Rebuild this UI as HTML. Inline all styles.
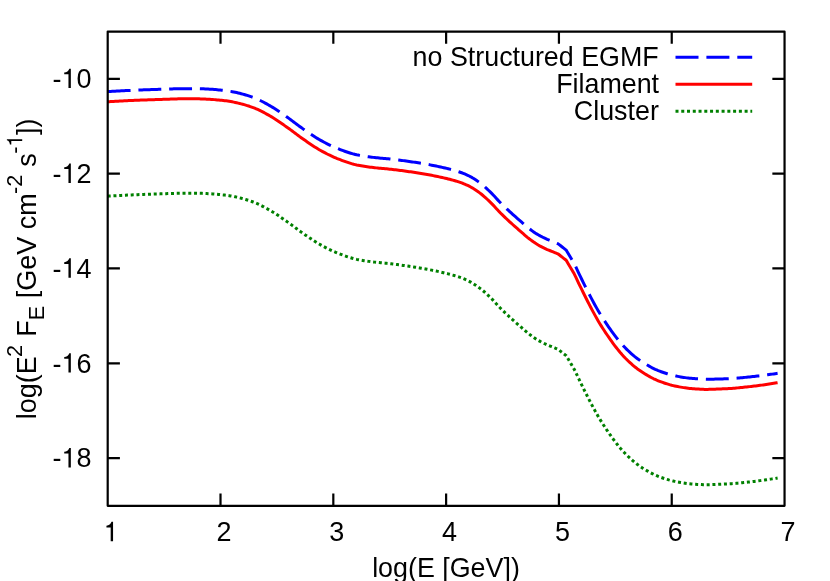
<!DOCTYPE html>
<html>
<head>
<meta charset="utf-8">
<title>plot</title>
<style>
html,body{margin:0;padding:0;background:#fff;}
body{width:830px;height:581px;overflow:hidden;}
svg{display:block;}
text{font-family:"Liberation Sans",sans-serif;fill:#000;font-kerning:none;white-space:pre;}
.lbl{opacity:0.999;}
.rot{filter:grayscale(1);}
</style>
</head>
<body>
<svg width="830" height="581" viewBox="0 0 830 581">
<rect x="0" y="0" width="830" height="581" fill="#ffffff"/>
<g fill="none" stroke-width="3" stroke-linejoin="round" stroke-linecap="butt">
<path stroke="#0000ff" stroke-dasharray="22.9 7.85" d="M107.7,91.59 L109.2,91.50 L110.7,91.41 L112.2,91.33 L113.7,91.24 L115.2,91.16 L116.7,91.07 L118.2,90.99 L119.7,90.91 L121.2,90.84 L122.7,90.76 L124.2,90.68 L125.7,90.61 L127.2,90.54 L128.7,90.47 L130.2,90.40 L131.7,90.33 L133.2,90.27 L134.7,90.21 L136.2,90.14 L137.7,90.08 L139.2,90.03 L140.7,89.97 L142.2,89.91 L143.7,89.86 L145.2,89.80 L146.7,89.75 L148.2,89.70 L149.7,89.65 L151.2,89.60 L152.7,89.55 L154.2,89.50 L155.7,89.45 L157.2,89.40 L158.7,89.36 L160.2,89.31 L161.7,89.26 L163.2,89.20 L164.7,89.15 L166.2,89.09 L167.7,89.04 L169.2,88.98 L170.7,88.93 L172.2,88.88 L173.7,88.83 L175.2,88.79 L176.7,88.75 L178.2,88.71 L179.7,88.68 L181.2,88.66 L182.7,88.65 L184.2,88.64 L185.7,88.64 L187.2,88.64 L188.7,88.64 L190.2,88.64 L191.7,88.64 L193.2,88.64 L194.7,88.64 L196.2,88.65 L197.7,88.68 L199.2,88.71 L200.7,88.75 L202.2,88.81 L203.7,88.87 L205.2,88.93 L206.7,89.00 L208.2,89.07 L209.7,89.15 L211.2,89.23 L212.7,89.35 L214.2,89.47 L215.7,89.61 L217.2,89.76 L218.7,89.91 L220.2,90.06 L221.7,90.21 L223.2,90.36 L224.7,90.52 L226.2,90.70 L227.7,90.91 L229.2,91.14 L230.7,91.39 L232.2,91.67 L233.7,91.96 L235.2,92.27 L236.7,92.59 L238.2,92.94 L239.7,93.30 L241.2,93.68 L242.7,94.08 L244.2,94.50 L245.7,94.94 L247.2,95.40 L248.7,95.88 L250.2,96.39 L251.7,96.91 L253.2,97.45 L254.7,98.02 L256.2,98.64 L257.7,99.30 L259.2,99.99 L260.7,100.73 L262.2,101.49 L263.7,102.28 L265.2,103.09 L266.7,103.92 L268.2,104.77 L269.7,105.62 L271.2,106.48 L272.7,107.38 L274.2,108.31 L275.7,109.28 L277.2,110.27 L278.7,111.28 L280.2,112.31 L281.7,113.36 L283.2,114.41 L284.7,115.47 L286.2,116.52 L287.7,117.57 L289.2,118.64 L290.7,119.73 L292.2,120.84 L293.7,121.96 L295.2,123.09 L296.7,124.21 L298.2,125.34 L299.7,126.45 L301.2,127.54 L302.7,128.62 L304.2,129.66 L305.7,130.69 L307.2,131.72 L308.7,132.75 L310.2,133.77 L311.7,134.77 L313.2,135.77 L314.7,136.74 L316.2,137.69 L317.7,138.61 L319.2,139.50 L320.7,140.35 L322.2,141.18 L323.7,141.99 L325.2,142.78 L326.7,143.55 L328.2,144.31 L329.7,145.05 L331.2,145.76 L332.7,146.45 L334.2,147.12 L335.7,147.76 L337.2,148.38 L338.7,148.96 L340.2,149.54 L341.7,150.11 L343.2,150.68 L344.7,151.22 L346.2,151.76 L347.7,152.27 L349.2,152.76 L350.7,153.23 L352.2,153.67 L353.7,154.08 L355.2,154.45 L356.7,154.79 L358.2,155.09 L359.7,155.38 L361.2,155.65 L362.7,155.90 L364.2,156.15 L365.7,156.37 L367.2,156.59 L368.7,156.80 L370.2,156.99 L371.7,157.18 L373.2,157.37 L374.7,157.54 L376.2,157.71 L377.7,157.86 L379.2,158.00 L380.7,158.14 L382.2,158.28 L383.7,158.41 L385.2,158.54 L386.7,158.68 L388.2,158.83 L389.7,158.98 L391.2,159.14 L392.7,159.31 L394.2,159.49 L395.7,159.67 L397.2,159.85 L398.7,160.04 L400.2,160.24 L401.7,160.43 L403.2,160.63 L404.7,160.84 L406.2,161.04 L407.7,161.25 L409.2,161.46 L410.7,161.68 L412.2,161.90 L413.7,162.12 L415.2,162.35 L416.7,162.58 L418.2,162.81 L419.7,163.05 L421.2,163.30 L422.7,163.55 L424.2,163.81 L425.7,164.07 L427.2,164.33 L428.7,164.60 L430.2,164.88 L431.7,165.16 L433.2,165.45 L434.7,165.75 L436.2,166.05 L437.7,166.36 L439.2,166.68 L440.7,167.01 L442.2,167.35 L443.7,167.69 L445.2,168.03 L446.7,168.39 L448.2,168.75 L449.7,169.13 L451.2,169.51 L452.7,169.92 L454.2,170.34 L455.7,170.78 L457.2,171.24 L458.7,171.72 L460.2,172.23 L461.7,172.77 L463.2,173.34 L464.7,173.96 L466.2,174.60 L467.7,175.29 L469.2,176.02 L470.7,176.81 L472.2,177.66 L473.7,178.58 L475.2,179.55 L476.7,180.57 L478.2,181.63 L479.7,182.72 L481.2,183.86 L482.7,185.07 L484.2,186.35 L485.7,187.69 L487.2,189.07 L488.7,190.49 L490.2,191.93 L491.7,193.41 L493.2,194.98 L494.7,196.60 L496.2,198.24 L497.7,199.88 L499.2,201.48 L500.7,203.02 L502.2,204.50 L503.7,205.96 L505.2,207.40 L506.7,208.81 L508.2,210.21 L509.7,211.59 L511.2,212.96 L512.7,214.32 L514.2,215.65 L515.7,216.97 L517.2,218.28 L518.7,219.58 L520.2,220.88 L521.7,222.19 L523.2,223.51 L524.7,224.83 L526.2,226.13 L527.7,227.39 L529.2,228.60 L530.7,229.74 L532.2,230.84 L533.7,231.90 L535.2,232.92 L536.7,233.89 L538.2,234.80 L539.7,235.65 L541.2,236.46 L542.7,237.22 L544.2,237.96 L545.7,238.66 L547.2,239.34 L548.7,239.95 L550.2,240.56 L551.7,241.17 L553.2,241.78 L554.7,242.39 L556.2,243.00 L557.7,243.61 L558.2,243.81 L559.2,244.60 L560.7,245.78 L562.2,246.96 L563.7,248.14 L565.2,249.32 L566.2,250.11 L566.7,250.95 L568.2,253.46 L569.7,255.98 L571.2,258.49 L572.7,261.01 L574.2,263.67 L575.7,266.62 L577.2,269.86 L578.7,273.10 L580.2,276.21 L581.7,279.27 L583.2,282.31 L584.7,285.32 L586.2,288.30 L587.7,291.26 L589.2,294.20 L590.7,297.09 L592.2,299.92 L593.7,302.71 L595.2,305.45 L596.7,308.14 L598.2,310.76 L599.7,313.27 L601.2,315.70 L602.7,318.05 L604.2,320.35 L605.7,322.61 L607.2,324.84 L608.7,327.03 L610.2,329.18 L611.7,331.29 L613.2,333.34 L614.7,335.33 L616.2,337.30 L617.7,339.23 L619.2,341.10 L620.7,342.89 L622.2,344.61 L623.7,346.24 L625.2,347.81 L626.7,349.33 L628.2,350.79 L629.7,352.19 L631.2,353.54 L632.7,354.84 L634.2,356.11 L635.7,357.32 L637.2,358.48 L638.7,359.59 L640.2,360.64 L641.7,361.65 L643.2,362.62 L644.7,363.55 L646.2,364.45 L647.7,365.32 L649.2,366.17 L650.7,367.00 L652.2,367.81 L653.7,368.57 L655.2,369.29 L656.7,369.95 L658.2,370.58 L659.7,371.17 L661.2,371.73 L662.7,372.26 L664.2,372.77 L665.7,373.26 L667.2,373.74 L668.7,374.20 L670.2,374.63 L671.7,375.03 L673.2,375.40 L674.7,375.74 L676.2,376.06 L677.7,376.37 L679.2,376.65 L680.7,376.92 L682.2,377.17 L683.7,377.41 L685.2,377.64 L686.7,377.86 L688.2,378.05 L689.7,378.21 L691.2,378.35 L692.7,378.48 L694.2,378.60 L695.7,378.71 L697.2,378.80 L698.7,378.88 L700.2,378.97 L701.7,379.07 L703.2,379.16 L704.7,379.22 L706.2,379.26 L707.7,379.27 L709.2,379.26 L710.7,379.24 L712.2,379.21 L713.7,379.16 L715.2,379.11 L716.7,379.06 L718.2,379.01 L719.7,378.96 L721.2,378.92 L722.7,378.88 L724.2,378.83 L725.7,378.78 L727.2,378.73 L728.7,378.67 L730.2,378.60 L731.7,378.52 L733.2,378.42 L734.7,378.31 L736.2,378.19 L737.7,378.06 L739.2,377.93 L740.7,377.79 L742.2,377.65 L743.7,377.51 L745.2,377.37 L746.7,377.23 L748.2,377.08 L749.7,376.93 L751.2,376.77 L752.7,376.61 L754.2,376.45 L755.7,376.28 L757.2,376.11 L758.7,375.93 L760.2,375.75 L761.7,375.57 L763.2,375.38 L764.7,375.18 L766.2,374.98 L767.7,374.78 L769.2,374.57 L770.7,374.35 L772.2,374.13 L773.7,373.91 L775.2,373.68 L776.7,373.44 L777.6,373.30"/>
<path stroke="#ff0000" d="M107.7,101.74 L109.2,101.65 L110.7,101.56 L112.2,101.48 L113.7,101.39 L115.2,101.31 L116.7,101.23 L118.2,101.14 L119.7,101.07 L121.2,100.99 L122.7,100.91 L124.2,100.84 L125.7,100.76 L127.2,100.69 L128.7,100.62 L130.2,100.55 L131.7,100.49 L133.2,100.42 L134.7,100.36 L136.2,100.30 L137.7,100.24 L139.2,100.18 L140.7,100.12 L142.2,100.06 L143.7,100.01 L145.2,99.96 L146.7,99.90 L148.2,99.85 L149.7,99.80 L151.2,99.75 L152.7,99.70 L154.2,99.65 L155.7,99.60 L157.2,99.56 L158.7,99.51 L160.2,99.46 L161.7,99.41 L163.2,99.36 L164.7,99.30 L166.2,99.25 L167.7,99.19 L169.2,99.14 L170.7,99.08 L172.2,99.03 L173.7,98.99 L175.2,98.94 L176.7,98.90 L178.2,98.87 L179.7,98.84 L181.2,98.82 L182.7,98.81 L184.2,98.80 L185.7,98.80 L187.2,98.80 L188.7,98.80 L190.2,98.80 L191.7,98.80 L193.2,98.80 L194.7,98.80 L196.2,98.81 L197.7,98.83 L199.2,98.87 L200.7,98.91 L202.2,98.96 L203.7,99.02 L205.2,99.09 L206.7,99.16 L208.2,99.23 L209.7,99.30 L211.2,99.39 L212.7,99.50 L214.2,99.63 L215.7,99.77 L217.2,99.92 L218.7,100.07 L220.2,100.22 L221.7,100.36 L223.2,100.52 L224.7,100.68 L226.2,100.86 L227.7,101.07 L229.2,101.30 L230.7,101.55 L232.2,101.83 L233.7,102.12 L235.2,102.43 L236.7,102.76 L238.2,103.10 L239.7,103.46 L241.2,103.84 L242.7,104.24 L244.2,104.66 L245.7,105.10 L247.2,105.56 L248.7,106.05 L250.2,106.55 L251.7,107.07 L253.2,107.61 L254.7,108.18 L256.2,108.80 L257.7,109.46 L259.2,110.16 L260.7,110.89 L262.2,111.65 L263.7,112.44 L265.2,113.25 L266.7,114.08 L268.2,114.93 L269.7,115.78 L271.2,116.65 L272.7,117.54 L274.2,118.48 L275.7,119.44 L277.2,120.43 L278.7,121.45 L280.2,122.48 L281.7,123.52 L283.2,124.58 L284.7,125.63 L286.2,126.69 L287.7,127.74 L289.2,128.81 L290.7,129.90 L292.2,131.00 L293.7,132.12 L295.2,133.25 L296.7,134.38 L298.2,135.50 L299.7,136.61 L301.2,137.71 L302.7,138.78 L304.2,139.83 L305.7,140.86 L307.2,141.89 L308.7,142.92 L310.2,143.93 L311.7,144.94 L313.2,145.93 L314.7,146.90 L316.2,147.85 L317.7,148.78 L319.2,149.67 L320.7,150.52 L322.2,151.35 L323.7,152.16 L325.2,152.95 L326.7,153.72 L328.2,154.48 L329.7,155.22 L331.2,155.93 L332.7,156.62 L334.2,157.29 L335.7,157.93 L337.2,158.55 L338.7,159.13 L340.2,159.71 L341.7,160.28 L343.2,160.84 L344.7,161.39 L346.2,161.93 L347.7,162.44 L349.2,162.93 L350.7,163.40 L352.2,163.84 L353.7,164.25 L355.2,164.62 L356.7,164.96 L358.2,165.26 L359.7,165.55 L361.2,165.82 L362.7,166.08 L364.2,166.32 L365.7,166.55 L367.2,166.76 L368.7,166.97 L370.2,167.17 L371.7,167.36 L373.2,167.54 L374.7,167.72 L376.2,167.88 L377.7,168.03 L379.2,168.18 L380.7,168.31 L382.2,168.45 L383.7,168.58 L385.2,168.72 L386.7,168.85 L388.2,169.00 L389.7,169.15 L391.2,169.32 L392.7,169.49 L394.2,169.66 L395.7,169.84 L397.2,170.03 L398.7,170.22 L400.2,170.41 L401.7,170.61 L403.2,170.81 L404.7,171.01 L406.2,171.22 L407.7,171.43 L409.2,171.64 L410.7,171.85 L412.2,172.07 L413.7,172.30 L415.2,172.52 L416.7,172.75 L418.2,172.99 L419.7,173.23 L421.2,173.48 L422.7,173.73 L424.2,173.98 L425.7,174.24 L427.2,174.51 L428.7,174.78 L430.2,175.06 L431.7,175.34 L433.2,175.63 L434.7,175.93 L436.2,176.23 L437.7,176.54 L439.2,176.86 L440.7,177.19 L442.2,177.52 L443.7,177.86 L445.2,178.21 L446.7,178.56 L448.2,178.93 L449.7,179.30 L451.2,179.69 L452.7,180.10 L454.2,180.52 L455.7,180.96 L457.2,181.41 L458.7,181.90 L460.2,182.41 L461.7,182.95 L463.2,183.52 L464.7,184.14 L466.2,184.79 L467.7,185.47 L469.2,186.20 L470.7,186.99 L472.2,187.84 L473.7,188.76 L475.2,189.73 L476.7,190.75 L478.2,191.81 L479.7,192.90 L481.2,194.04 L482.7,195.25 L484.2,196.54 L485.7,197.87 L487.2,199.25 L488.7,200.67 L490.2,202.11 L491.7,203.59 L493.2,205.16 L494.7,206.78 L496.2,208.43 L497.7,210.06 L499.2,211.67 L500.7,213.20 L502.2,214.68 L503.7,216.14 L505.2,217.58 L506.7,218.99 L508.2,220.39 L509.7,221.78 L511.2,223.15 L512.7,224.50 L514.2,225.84 L515.7,227.16 L517.2,228.47 L518.7,229.77 L520.2,231.07 L521.7,232.37 L523.2,233.69 L524.7,235.01 L526.2,236.31 L527.7,237.58 L529.2,238.79 L530.7,239.92 L532.2,241.02 L533.7,242.09 L535.2,243.11 L536.7,244.07 L538.2,244.98 L539.7,245.84 L541.2,246.64 L542.7,247.41 L544.2,248.14 L545.7,248.85 L547.2,249.52 L548.7,250.13 L550.2,250.74 L551.7,251.35 L553.2,251.96 L554.7,252.58 L556.2,253.19 L557.7,253.80 L558.2,254.00 L559.2,254.79 L560.7,255.97 L562.2,257.15 L563.7,258.33 L565.2,259.51 L566.2,260.30 L566.7,261.14 L568.2,263.65 L569.7,266.17 L571.2,268.68 L572.7,271.20 L574.2,273.86 L575.7,276.81 L577.2,280.05 L578.7,283.29 L580.2,286.39 L581.7,289.46 L583.2,292.50 L584.7,295.51 L586.2,298.49 L587.7,301.45 L589.2,304.39 L590.7,307.28 L592.2,310.11 L593.7,312.90 L595.2,315.65 L596.7,318.34 L598.2,320.95 L599.7,323.46 L601.2,325.89 L602.7,328.24 L604.2,330.54 L605.7,332.80 L607.2,335.03 L608.7,337.22 L610.2,339.38 L611.7,341.48 L613.2,343.53 L614.7,345.53 L616.2,347.49 L617.7,349.42 L619.2,351.29 L620.7,353.09 L622.2,354.80 L623.7,356.43 L625.2,358.01 L626.7,359.52 L628.2,360.98 L629.7,362.38 L631.2,363.73 L632.7,365.04 L634.2,366.30 L635.7,367.51 L637.2,368.68 L638.7,369.79 L640.2,370.84 L641.7,371.85 L643.2,372.82 L644.7,373.75 L646.2,374.64 L647.7,375.51 L649.2,376.37 L650.7,377.20 L652.2,378.00 L653.7,378.77 L655.2,379.48 L656.7,380.15 L658.2,380.77 L659.7,381.36 L661.2,381.92 L662.7,382.46 L664.2,382.97 L665.7,383.46 L667.2,383.94 L668.7,384.39 L670.2,384.82 L671.7,385.23 L673.2,385.60 L674.7,385.94 L676.2,386.26 L677.7,386.56 L679.2,386.85 L680.7,387.12 L682.2,387.37 L683.7,387.61 L685.2,387.84 L686.7,388.06 L688.2,388.25 L689.7,388.41 L691.2,388.55 L692.7,388.68 L694.2,388.80 L695.7,388.91 L697.2,389.00 L698.7,389.08 L700.2,389.17 L701.7,389.25 L703.2,389.32 L704.7,389.38 L706.2,389.40 L707.7,389.39 L709.2,389.37 L710.7,389.33 L712.2,389.28 L713.7,389.22 L715.2,389.16 L716.7,389.09 L718.2,389.02 L719.7,388.96 L721.2,388.90 L722.7,388.85 L724.2,388.78 L725.7,388.72 L727.2,388.65 L728.7,388.57 L730.2,388.49 L731.7,388.39 L733.2,388.28 L734.7,388.15 L736.2,388.02 L737.7,387.87 L739.2,387.73 L740.7,387.57 L742.2,387.42 L743.7,387.26 L745.2,387.11 L746.7,386.95 L748.2,386.79 L749.7,386.62 L751.2,386.45 L752.7,386.27 L754.2,386.09 L755.7,385.91 L757.2,385.72 L758.7,385.53 L760.2,385.33 L761.7,385.13 L763.2,384.93 L764.7,384.72 L766.2,384.50 L767.7,384.28 L769.2,384.05 L770.7,383.82 L772.2,383.59 L773.7,383.35 L775.2,383.10 L776.7,382.85 L777.6,382.70"/>
<path stroke="#008000" stroke-dasharray="3 2.76" d="M107.7,196.14 L109.2,196.05 L110.7,195.96 L112.2,195.88 L113.7,195.79 L115.2,195.71 L116.7,195.63 L118.2,195.54 L119.7,195.47 L121.2,195.39 L122.7,195.31 L124.2,195.24 L125.7,195.16 L127.2,195.09 L128.7,195.02 L130.2,194.95 L131.7,194.89 L133.2,194.82 L134.7,194.76 L136.2,194.70 L137.7,194.64 L139.2,194.58 L140.7,194.52 L142.2,194.46 L143.7,194.41 L145.2,194.36 L146.7,194.30 L148.2,194.25 L149.7,194.20 L151.2,194.15 L152.7,194.10 L154.2,194.05 L155.7,194.00 L157.2,193.96 L158.7,193.91 L160.2,193.86 L161.7,193.81 L163.2,193.76 L164.7,193.70 L166.2,193.65 L167.7,193.59 L169.2,193.54 L170.7,193.48 L172.2,193.43 L173.7,193.39 L175.2,193.34 L176.7,193.30 L178.2,193.27 L179.7,193.24 L181.2,193.22 L182.7,193.21 L184.2,193.20 L185.7,193.20 L187.2,193.20 L188.7,193.20 L190.2,193.20 L191.7,193.20 L193.2,193.20 L194.7,193.20 L196.2,193.21 L197.7,193.23 L199.2,193.27 L200.7,193.31 L202.2,193.36 L203.7,193.42 L205.2,193.49 L206.7,193.56 L208.2,193.63 L209.7,193.70 L211.2,193.79 L212.7,193.90 L214.2,194.03 L215.7,194.17 L217.2,194.32 L218.7,194.47 L220.2,194.62 L221.7,194.76 L223.2,194.92 L224.7,195.08 L226.2,195.26 L227.7,195.47 L229.2,195.70 L230.7,195.95 L232.2,196.23 L233.7,196.52 L235.2,196.83 L236.7,197.16 L238.2,197.50 L239.7,197.86 L241.2,198.24 L242.7,198.64 L244.2,199.06 L245.7,199.50 L247.2,199.96 L248.7,200.45 L250.2,200.95 L251.7,201.47 L253.2,202.01 L254.7,202.58 L256.2,203.20 L257.7,203.86 L259.2,204.56 L260.7,205.29 L262.2,206.05 L263.7,206.84 L265.2,207.65 L266.7,208.48 L268.2,209.33 L269.7,210.18 L271.2,211.05 L272.7,211.94 L274.2,212.88 L275.7,213.84 L277.2,214.83 L278.7,215.85 L280.2,216.88 L281.7,217.92 L283.2,218.98 L284.7,220.03 L286.2,221.09 L287.7,222.14 L289.2,223.21 L290.7,224.30 L292.2,225.40 L293.7,226.52 L295.2,227.65 L296.7,228.78 L298.2,229.90 L299.7,231.01 L301.2,232.11 L302.7,233.18 L304.2,234.23 L305.7,235.26 L307.2,236.29 L308.7,237.32 L310.2,238.33 L311.7,239.34 L313.2,240.33 L314.7,241.30 L316.2,242.25 L317.7,243.18 L319.2,244.07 L320.7,244.92 L322.2,245.75 L323.7,246.56 L325.2,247.35 L326.7,248.12 L328.2,248.88 L329.7,249.62 L331.2,250.33 L332.7,251.02 L334.2,251.69 L335.7,252.33 L337.2,252.95 L338.7,253.53 L340.2,254.11 L341.7,254.68 L343.2,255.24 L344.7,255.79 L346.2,256.33 L347.7,256.84 L349.2,257.33 L350.7,257.80 L352.2,258.24 L353.7,258.65 L355.2,259.02 L356.7,259.36 L358.2,259.66 L359.7,259.95 L361.2,260.22 L362.7,260.48 L364.2,260.72 L365.7,260.95 L367.2,261.16 L368.7,261.37 L370.2,261.57 L371.7,261.76 L373.2,261.94 L374.7,262.12 L376.2,262.28 L377.7,262.43 L379.2,262.58 L380.7,262.72 L382.2,262.87 L383.7,263.01 L385.2,263.16 L386.7,263.31 L388.2,263.47 L389.7,263.63 L391.2,263.81 L392.7,263.99 L394.2,264.18 L395.7,264.37 L397.2,264.57 L398.7,264.77 L400.2,264.97 L401.7,265.18 L403.2,265.40 L404.7,265.61 L406.2,265.83 L407.7,266.05 L409.2,266.27 L410.7,266.50 L412.2,266.73 L413.7,266.97 L415.2,267.20 L416.7,267.45 L418.2,267.70 L419.7,267.95 L421.2,268.21 L422.7,268.47 L424.2,268.74 L425.7,269.01 L427.2,269.29 L428.7,269.57 L430.2,269.86 L431.7,270.15 L433.2,270.46 L434.7,270.76 L436.2,271.08 L437.7,271.40 L439.2,271.73 L440.7,272.07 L442.2,272.42 L443.7,272.77 L445.2,273.13 L446.7,273.50 L448.2,273.87 L449.7,274.26 L451.2,274.66 L452.7,275.08 L454.2,275.51 L455.7,275.96 L457.2,276.43 L458.7,276.92 L460.2,277.45 L461.7,278.00 L463.2,278.59 L464.7,279.21 L466.2,279.87 L467.7,280.57 L469.2,281.31 L470.7,282.11 L472.2,282.98 L473.7,283.91 L475.2,284.89 L476.7,285.92 L478.2,287.00 L479.7,288.10 L481.2,289.24 L482.7,290.46 L484.2,291.75 L485.7,293.09 L487.2,294.47 L488.7,295.89 L490.2,297.33 L491.7,298.82 L493.2,300.39 L494.7,302.02 L496.2,303.67 L497.7,305.31 L499.2,306.91 L500.7,308.45 L502.2,309.94 L503.7,311.40 L505.2,312.84 L506.7,314.26 L508.2,315.66 L509.7,317.05 L511.2,318.42 L512.7,319.78 L514.2,321.12 L515.7,322.45 L517.2,323.76 L518.7,325.07 L520.2,326.37 L521.7,327.68 L523.2,329.00 L524.7,330.32 L526.2,331.63 L527.7,332.90 L529.2,334.11 L530.7,335.25 L532.2,336.35 L533.7,337.42 L535.2,338.44 L536.7,339.42 L538.2,340.33 L539.7,341.18 L541.2,341.99 L542.7,342.77 L544.2,343.50 L545.7,344.21 L547.2,344.89 L548.7,345.50 L550.2,346.12 L551.7,346.73 L553.2,347.35 L554.7,347.96 L556.2,348.58 L557.7,349.19 L558.2,349.40 L559.2,350.19 L560.7,351.37 L562.2,352.56 L563.7,353.74 L565.2,354.93 L566.2,355.72 L566.7,356.55 L568.2,359.07 L569.7,361.59 L571.2,364.11 L572.7,366.63 L574.2,369.30 L575.7,372.25 L577.2,375.49 L578.7,378.74 L580.2,381.85 L581.7,384.92 L583.2,387.96 L584.7,390.97 L586.2,393.95 L587.7,396.92 L589.2,399.86 L590.7,402.76 L592.2,405.59 L593.7,408.38 L595.2,411.13 L596.7,413.83 L598.2,416.44 L599.7,418.96 L601.2,421.39 L602.7,423.75 L604.2,426.05 L605.7,428.31 L607.2,430.55 L608.7,432.74 L610.2,434.90 L611.7,437.01 L613.2,439.06 L614.7,441.06 L616.2,443.04 L617.7,444.96 L619.2,446.84 L620.7,448.64 L622.2,450.36 L623.7,451.99 L625.2,453.57 L626.7,455.09 L628.2,456.55 L629.7,457.96 L631.2,459.31 L632.7,460.62 L634.2,461.89 L635.7,463.10 L637.2,464.27 L638.7,465.38 L640.2,466.44 L641.7,467.44 L643.2,468.40 L644.7,469.33 L646.2,470.22 L647.7,471.09 L649.2,471.93 L650.7,472.76 L652.2,473.56 L653.7,474.32 L655.2,475.03 L656.7,475.68 L658.2,476.30 L659.7,476.89 L661.2,477.44 L662.7,477.97 L664.2,478.48 L665.7,478.96 L667.2,479.43 L668.7,479.89 L670.2,480.31 L671.7,480.71 L673.2,481.07 L674.7,481.41 L676.2,481.73 L677.7,482.02 L679.2,482.30 L680.7,482.56 L682.2,482.81 L683.7,483.05 L685.2,483.27 L686.7,483.48 L688.2,483.67 L689.7,483.82 L691.2,483.96 L692.7,484.08 L694.2,484.20 L695.7,484.30 L697.2,484.38 L698.7,484.46 L700.2,484.54 L701.7,484.62 L703.2,484.69 L704.7,484.73 L706.2,484.75 L707.7,484.74 L709.2,484.71 L710.7,484.67 L712.2,484.61 L713.7,484.55 L715.2,484.48 L716.7,484.40 L718.2,484.33 L719.7,484.26 L721.2,484.20 L722.7,484.15 L724.2,484.08 L725.7,484.02 L727.2,483.95 L728.7,483.87 L730.2,483.79 L731.7,483.69 L733.2,483.58 L734.7,483.45 L736.2,483.32 L737.7,483.17 L739.2,483.03 L740.7,482.87 L742.2,482.72 L743.7,482.56 L745.2,482.41 L746.7,482.25 L748.2,482.09 L749.7,481.92 L751.2,481.75 L752.7,481.57 L754.2,481.39 L755.7,481.21 L757.2,481.02 L758.7,480.83 L760.2,480.63 L761.7,480.43 L763.2,480.23 L764.7,480.02 L766.2,479.80 L767.7,479.58 L769.2,479.35 L770.7,479.12 L772.2,478.89 L773.7,478.65 L775.2,478.40 L776.7,478.15 L777.6,478.00"/>
<path stroke="#0000ff" stroke-dasharray="23 7.9" d="M675.5,57.3 L752.2,57.3"/>
<path stroke="#ff0000" d="M675.5,84.25 L752.2,84.25"/>
<path stroke="#008000" stroke-dasharray="3 2.76" d="M675.5,111.2 L752.2,111.2"/>
</g>
<g fill="none" stroke="#000" stroke-width="2.2" stroke-linecap="butt" stroke-linejoin="round">
<rect x="107.7" y="31.6" width="676.85" height="474.20"/>
<path d="M220.51,505.8 v-12.2 M220.51,31.6 v12.2 M333.32,505.8 v-12.2 M333.32,31.6 v12.2 M446.12,505.8 v-12.2 M446.12,31.6 v12.2 M558.93,505.8 v-12.2 M558.93,31.6 v12.2 M671.74,505.8 v-12.2 M671.74,31.6 v12.2 M107.7,78.80 h12.2 M784.55,78.80 h-12.2 M107.7,173.63 h12.2 M784.55,173.63 h-12.2 M107.7,268.46 h12.2 M784.55,268.46 h-12.2 M107.7,363.29 h12.2 M784.55,363.29 h-12.2 M107.7,458.12 h12.2 M784.55,458.12 h-12.2"/>
</g>
<g class="lbl">
<text x="52.48" y="88.10" font-size="27" transform="matrix(1 0 0 1.045 0 -3.964)" xml:space="preserve">-</text><path d="M347,0H259V505H102V568C196,580 262,618 290,709H347Z" transform="translate(61.47,88.10) scale(0.02700,-0.02742)"/><text x="76.48" y="88.10" font-size="27" transform="matrix(1 0 0 1.045 0 -3.964)" xml:space="preserve">0</text>
<text x="52.48" y="182.93" font-size="27" transform="matrix(1 0 0 1.045 0 -8.232)" xml:space="preserve">-</text><path d="M347,0H259V505H102V568C196,580 262,618 290,709H347Z" transform="translate(61.47,182.93) scale(0.02700,-0.02742)"/><text x="76.48" y="182.93" font-size="27" transform="matrix(1 0 0 1.045 0 -8.232)" xml:space="preserve">2</text>
<text x="52.48" y="277.76" font-size="27" transform="matrix(1 0 0 1.045 0 -12.499)" xml:space="preserve">-</text><path d="M347,0H259V505H102V568C196,580 262,618 290,709H347Z" transform="translate(61.47,277.76) scale(0.02700,-0.02742)"/><text x="76.48" y="277.76" font-size="27" transform="matrix(1 0 0 1.045 0 -12.499)" xml:space="preserve">4</text>
<text x="52.48" y="372.59" font-size="27" transform="matrix(1 0 0 1.045 0 -16.767)" xml:space="preserve">-</text><path d="M347,0H259V505H102V568C196,580 262,618 290,709H347Z" transform="translate(61.47,372.59) scale(0.02700,-0.02742)"/><text x="76.48" y="372.59" font-size="27" transform="matrix(1 0 0 1.045 0 -16.767)" xml:space="preserve">6</text>
<text x="52.48" y="467.42" font-size="27" transform="matrix(1 0 0 1.045 0 -21.034)" xml:space="preserve">-</text><path d="M347,0H259V505H102V568C196,580 262,618 290,709H347Z" transform="translate(61.47,467.42) scale(0.02700,-0.02742)"/><text x="76.48" y="467.42" font-size="27" transform="matrix(1 0 0 1.045 0 -21.034)" xml:space="preserve">8</text>
<path d="M347,0H259V505H102V568C196,580 262,618 290,709H347Z" transform="translate(103.69,541.30) scale(0.02700,-0.02742)"/>
<text x="216.50" y="541.30" font-size="27" transform="matrix(1 0 0 1.045 0 -24.358)" xml:space="preserve">2</text>
<text x="329.31" y="541.30" font-size="27" transform="matrix(1 0 0 1.045 0 -24.358)" xml:space="preserve">3</text>
<text x="442.12" y="541.30" font-size="27" transform="matrix(1 0 0 1.045 0 -24.358)" xml:space="preserve">4</text>
<text x="554.93" y="541.30" font-size="27" transform="matrix(1 0 0 1.045 0 -24.358)" xml:space="preserve">5</text>
<text x="667.73" y="541.30" font-size="27" transform="matrix(1 0 0 1.045 0 -24.358)" xml:space="preserve">6</text>
<text x="780.54" y="541.30" font-size="27" transform="matrix(1 0 0 1.045 0 -24.358)" xml:space="preserve">7</text>
<text x="372.14" y="576.50" font-size="26.85" xml:space="preserve">log(E [GeV])</text>
<text x="412.59" y="66.10" font-size="26.85" xml:space="preserve">no Structured EGMF</text>
<text x="556.14" y="93.20" font-size="26.85" xml:space="preserve">Filament</text>
<text x="573.85" y="120.40" font-size="26.85" xml:space="preserve">Cluster</text>
</g>
<g class="rot"><g transform="translate(36.4,419.3) rotate(-90)">
<text x="0.00" y="0.00" font-size="27.0" xml:space="preserve">log(E</text>
<text x="62.33" y="-14.20" font-size="21.6" xml:space="preserve">2</text>
<text x="75.04" y="0.00" font-size="27.0" xml:space="preserve"> F</text>
<text x="99.04" y="7.50" font-size="21.6" xml:space="preserve">E</text>
<text x="113.44" y="0.00" font-size="27.0" xml:space="preserve"> [GeV cm</text>
<text x="225.27" y="-14.20" font-size="21.6" xml:space="preserve">-2</text>
<text x="245.17" y="0.00" font-size="27.0" xml:space="preserve"> s</text>
<text x="265.47" y="-14.20" font-size="21.6" xml:space="preserve">-</text><path d="M347,0H259V505H102V568C196,580 262,618 290,709H347Z" transform="translate(272.67,-14.20) scale(0.02160,-0.02160)"/>
<text x="284.28" y="0.00" font-size="27.0" xml:space="preserve">])</text>
</g></g>
</svg>
</body>
</html>
